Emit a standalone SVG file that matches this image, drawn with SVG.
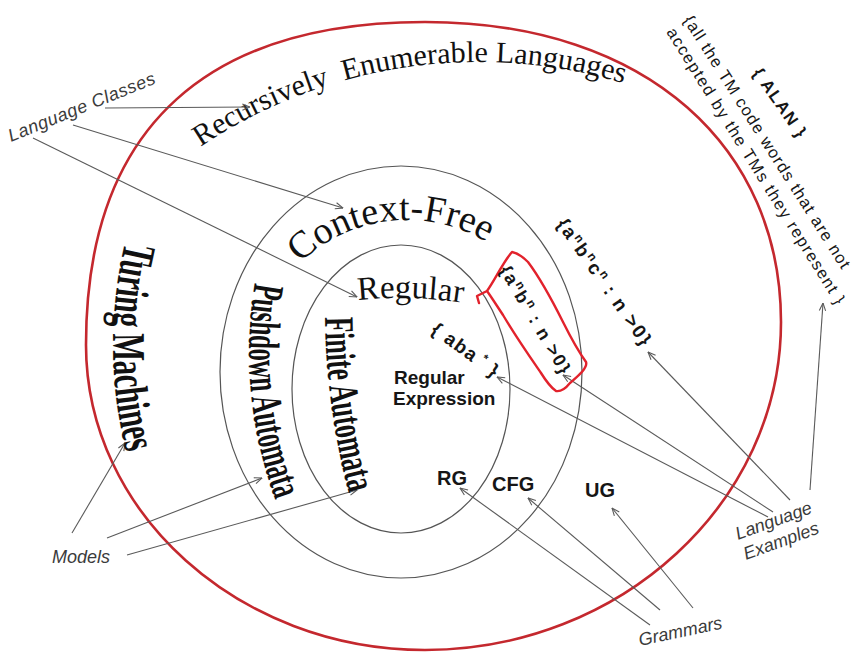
<svg xmlns="http://www.w3.org/2000/svg" width="854" height="652" viewBox="0 0 854 652">
  <style>
    .ring-outer { fill: none; stroke: #c4282e; stroke-width: 2.6; }
    .ring { fill: none; stroke: #555; stroke-width: 1.2; }
    .serif { font-family: "Liberation Serif", "Times New Roman", serif; fill: #111; }
    .heavy { font-weight: bold; }
    .sans { font-family: "Liberation Sans", Arial, sans-serif; fill: #161616; }
    .sansb { font-family: "Liberation Sans", Arial, sans-serif; font-weight: bold; fill: #161616; }
    .note { font-family: "Liberation Sans", Arial, sans-serif; font-style: italic; font-size: 18px; fill: #3b3b3b; }
    .link { fill: none; stroke: #5a5a5a; stroke-width: 1.1; marker-end: url(#arrow); }
    .mark { fill: none; stroke: #e2222c; stroke-width: 2.4; stroke-linejoin: round; stroke-linecap: round; }
    .sup { font-size: 12px; }
  </style>
  <defs>
    <marker id="arrow" viewBox="0 0 10 10" refX="9.5" refY="5" markerWidth="9" markerHeight="9" markerUnits="userSpaceOnUse" orient="auto">
      <path d="M1,1.5 L9.5,5 L1,8.5" fill="none" stroke="#5a5a5a" stroke-width="1.2"/>
    </marker>
    <!-- baselines for the curved class names -->
    <path id="p-re" d="M -21,562 A 500 500 0 0 1 979,562"/>
    <path id="p-cf" d="M 252,375 A 155 155 0 0 1 562,375"/>
    <path id="p-reg" d="M 0,698 A 400 400 0 0 1 800,698"/>
    <path id="p-tm" d="M 560,-102 A 447 447 0 0 0 113,345 A 447 447 0 0 0 560,792"/>
    <path id="p-pda" d="M 671,-69 A 422 422 0 0 0 249,353 A 422 422 0 0 0 671,775"/>
    <path id="p-fa" d="M 1034,-398 A 709 709 0 0 0 325,311 A 709 709 0 0 0 1034,1020"/>
  </defs>

  <rect width="854" height="652" fill="#fff"/>

  <!-- nested language classes -->
  <g id="class-re">
    <path class="ring-outer" d="M 86,345 C 86,120 215,22 425,22 C 650,22 781,150 781,322 C 781,502 621,650 425,650 C 239,650 86,513 86,345 Z"/>
    <text class="serif" font-size="30"><textPath href="#p-re" startOffset="490" textLength="442" lengthAdjust="spacing">Recursively&#160; Enumerable Languages</textPath></text>
  </g>
  <g id="class-cf">
    <ellipse class="ring" cx="401" cy="372" rx="181" ry="206"/>
    <text class="serif" font-size="38"><textPath href="#p-cf" startOffset="125" textLength="202" lengthAdjust="spacing">Context-Free</textPath></text>
  </g>
  <g id="class-reg">
    <ellipse class="ring" cx="401" cy="389" rx="109" ry="144"/>
    <text class="serif" font-size="33"><textPath href="#p-reg" startOffset="586" textLength="105" lengthAdjust="spacing">Regular</textPath></text>
  </g>

  <!-- connectors -->
  <g id="connectors">
    <line class="link" x1="105" y1="108" x2="250" y2="107"/>
    <line class="link" x1="73" y1="125" x2="343" y2="208"/>
    <line class="link" x1="33" y1="138" x2="357" y2="297"/>
    <line class="link" x1="72" y1="533" x2="125" y2="443"/>
    <line class="link" x1="107" y1="538" x2="262" y2="478"/>
    <line class="link" x1="127" y1="555" x2="357" y2="490"/>
    <line class="link" x1="650" y1="625" x2="460" y2="488"/>
    <line class="link" x1="660" y1="610" x2="528" y2="498"/>
    <line class="link" x1="693" y1="608" x2="612" y2="508"/>
    <line class="link" x1="768" y1="517" x2="497" y2="377"/>
    <line class="link" x1="773" y1="512" x2="563" y2="375"/>
    <line class="link" x1="790" y1="500" x2="648" y2="352"/>
    <line class="link" x1="810" y1="490" x2="823" y2="303"/>
  </g>

  <!-- machine models -->
  <g id="model-tm">
    <text class="serif heavy" font-size="47"><textPath href="#p-tm" startOffset="598" textLength="213" lengthAdjust="spacingAndGlyphs">Turing Machines</textPath></text>
  </g>
  <g id="model-pda">
    <text class="serif heavy" font-size="44"><textPath href="#p-pda" startOffset="592" textLength="221" lengthAdjust="spacingAndGlyphs">Pushdown Automata</textPath></text>
  </g>
  <g id="model-fa">
    <text class="serif heavy" font-size="42"><textPath href="#p-fa" startOffset="1120" textLength="178" lengthAdjust="spacingAndGlyphs">Finite Automata</textPath></text>
  </g>

  <!-- example languages -->
  <g id="lang-alan">
    <text class="sansb" font-size="17" transform="translate(752,73) rotate(55)" textLength="80" lengthAdjust="spacing">{ ALAN }</text>
    <text class="sans" font-size="16.5" transform="translate(683,20) rotate(57.6)" textLength="296" lengthAdjust="spacing">{all the TM code words that are not</text>
    <text class="sans" font-size="16.5" transform="translate(666,32) rotate(58.1)" textLength="322" lengthAdjust="spacing">accepted by the TMs they represent }</text>
  </g>
  <g id="lang-anbncn">
    <text class="sansb" font-size="19" transform="translate(556,224) rotate(55)" textLength="150" lengthAdjust="spacing">{a<tspan class="sup" dy="-7">n</tspan><tspan dy="7">b</tspan><tspan class="sup" dy="-7">n</tspan><tspan dy="7">c</tspan><tspan class="sup" dy="-7">n</tspan><tspan dy="7"> : n &gt;0}</tspan></text>
  </g>
  <g id="lang-anbn">
    <path class="mark" d="M 479,303 L 477,296 L 487,291 C 495,280 503,262 512,252 C 517,253 522,256 528,262 C 540,278 552,300 563,322 C 570,336 576,348 586,362 C 588,368 578,376 570,383 C 566,388 562,392 556,391 C 550,387 546,381 541,373 C 530,357 516,337 503,315 C 497,306 492,298 487,291"/>
    <text class="sansb" font-size="18" transform="translate(499,270) rotate(59.5)" textLength="122" lengthAdjust="spacing">{a<tspan class="sup" dy="-7">n</tspan><tspan dy="7">b</tspan><tspan class="sup" dy="-7">n</tspan><tspan dy="7"> : n &gt;0}</tspan></text>
  </g>
  <g id="lang-aba">
    <text class="sansb" font-size="19" transform="translate(430,332) rotate(36)" textLength="78" lengthAdjust="spacing">{ aba<tspan class="sup" dy="-7"> *</tspan><tspan dy="7"> }</tspan></text>
  </g>
  <g id="regex">
    <text class="sansb" font-size="19" x="394" y="384">Regular</text>
    <text class="sansb" font-size="19" x="393" y="405">Expression</text>
  </g>

  <!-- grammars -->
  <g id="gram-rg"><text class="sansb" font-size="20" x="437" y="485">RG</text></g>
  <g id="gram-cfg"><text class="sansb" font-size="20" x="492" y="491">CFG</text></g>
  <g id="gram-ug"><text class="sansb" font-size="20" x="585" y="497">UG</text></g>

  <!-- side labels -->
  <g id="label-classes"><text class="note" transform="translate(11,142) rotate(-22)" textLength="157" lengthAdjust="spacing">Language Classes</text></g>
  <g id="label-models"><text class="note" x="52" y="563">Models</text></g>
  <g id="label-grammars"><text class="note" transform="translate(640,646) rotate(-12)">Grammars</text></g>
  <g id="label-examples">
    <text class="note" transform="translate(738,540) rotate(-20)">Language</text>
    <text class="note" transform="translate(746,560) rotate(-20)">Examples</text>
  </g>
</svg>
